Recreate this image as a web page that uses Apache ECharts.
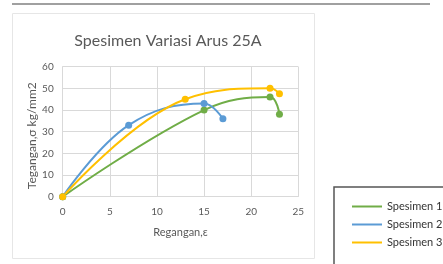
<!DOCTYPE html>
<html>
<head>
<meta charset="utf-8">
<script src="https://cdn.jsdelivr.net/npm/echarts@6/dist/echarts.min.js"></script>
<style>
  html, body { margin: 0; padding: 0; background: #fff; }
  #chart { width: 443px; height: 264px; }
</style>
</head>
<body>
<div id="chart"></div>
<script>
const seriesNames = ['Spesimen 1', 'Spesimen 2', 'Spesimen 3']
const spesimen1 = [[0, 0], [15, 40], [22, 46], [23, 38]]
const spesimen2 = [[0, 0], [7, 33], [15, 43], [17, 36]]
const spesimen3 = [[0, 0], [13, 45], [22, 50], [23, 47.5]]
const colors = ['#70ad47', '#5b9bd5', '#ffc000']

const font = 'Lato, "Open Sans", sans-serif'
const chart = echarts.init(document.getElementById('chart'))

const makeSeries = (name, data, color) => ({
  name: name,
  type: 'line',
  data: data,
  smooth: 0.4,
  symbol: 'circle',
  symbolSize: 7,
  lineStyle: { color: color, width: 2 },
  itemStyle: { color: color }
})

const option = {
  animation: false,
  textStyle: { fontFamily: font },
  title: {
    text: 'Spesimen Variasi Arus 25A',
    left: 163,
    textAlign: 'center',
    top: 28,
    textStyle: { fontSize: 16, fontWeight: 'normal', color: '#595959', fontFamily: font }
  },
  graphic: [
    { type: 'rect', z: -1, shape: { x: 12, y: 3, width: 418, height: 2 }, style: { fill: '#a0a0a0' } },
    { type: 'rect', z: -1, shape: { x: 12.5, y: 13.5, width: 302, height: 245 }, style: { fill: '#fff', stroke: '#e6e6e6', lineWidth: 1 } },
    { type: 'rect', z: -1, shape: { x: 334, y: 187, width: 130, height: 90 }, style: { fill: '#fff', stroke: '#555', lineWidth: 1.5 } }
  ],
  legend: {
    data: seriesNames,
    orient: 'vertical',
    left: 347,
    top: 196,
    icon: 'rect',
    itemWidth: 30,
    itemHeight: 2,
    itemGap: 7,
    textStyle: { fontSize: 11, color: '#333', fontFamily: font }
  },
  grid: { left: 62.7, right: 144.7, top: 66.7, bottom: 67.3 },
  xAxis: {
    type: 'value',
    min: 0,
    max: 25,
    interval: 5,
    name: 'Regangan,ε',
    nameLocation: 'middle',
    nameGap: 30,
    nameTextStyle: { fontSize: 11, color: '#595959' },
    axisLine: { show: true, lineStyle: { color: '#d9d9d9' } },
    axisTick: { show: false },
    axisLabel: { fontSize: 10, color: '#595959', margin: 10 },
    splitLine: { show: true, lineStyle: { color: '#d9d9d9' } }
  },
  yAxis: {
    type: 'value',
    min: 0,
    max: 60,
    interval: 10,
    name: 'Tegangan,σ kg/mm2',
    nameLocation: 'middle',
    nameGap: 25,
    nameMoveOverlap: false,
    nameTextStyle: { fontSize: 12, color: '#595959', padding: [0, 8, 0, 0] },
    axisLine: { show: true, lineStyle: { color: '#d9d9d9' } },
    axisTick: { show: false },
    axisLabel: { fontSize: 10, color: '#595959', margin: 9 },
    splitLine: { show: true, lineStyle: { color: '#d9d9d9' } }
  },
  series: [
    makeSeries(seriesNames[0], spesimen1, colors[0]),
    makeSeries(seriesNames[1], spesimen2, colors[1]),
    makeSeries(seriesNames[2], spesimen3, colors[2])
  ]
}

chart.setOption(option)
</script>
</body>
</html>
